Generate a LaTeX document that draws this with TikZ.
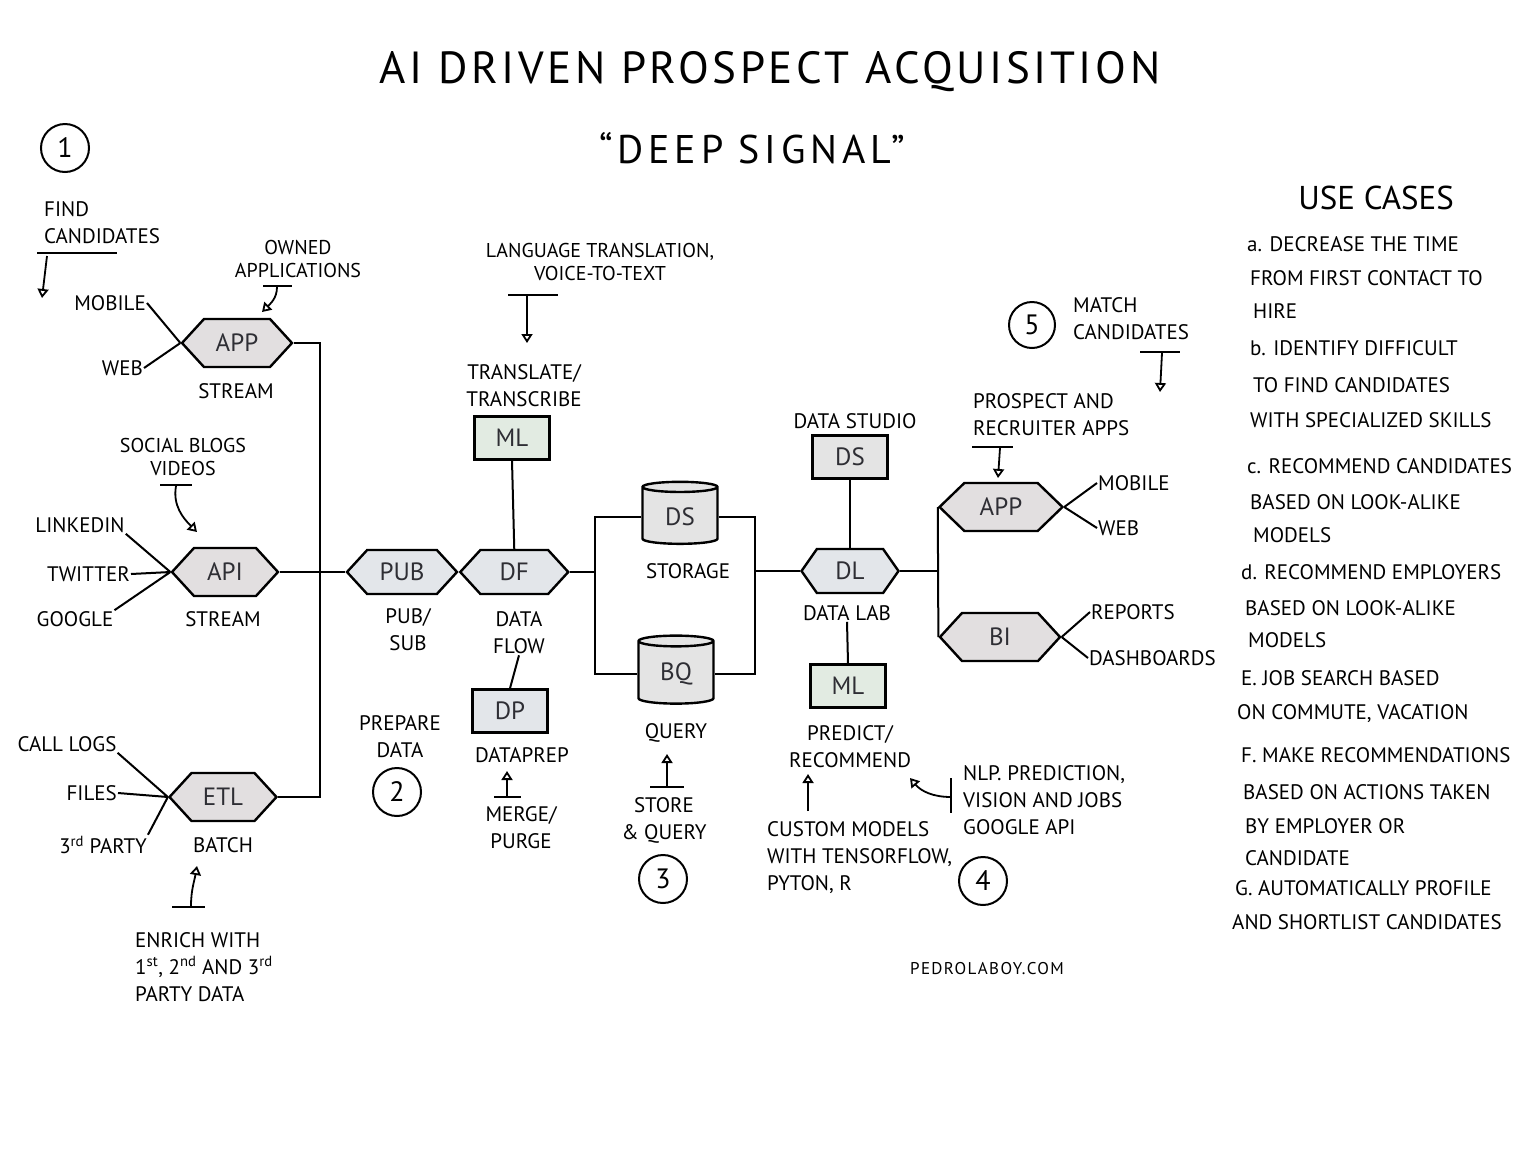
\documentclass[tikz,border=0pt]{standalone}
\usepackage{fontspec}
\setmainfont{PT Sans}
\usetikzlibrary{shapes.symbols,shapes.geometric,arrows.meta,positioning}
\definecolor{hexgray}{HTML}{E2DFE0}
\definecolor{flowblue}{HTML}{E3E6EA}
\definecolor{mlgreen}{HTML}{E2EBE2}
\definecolor{boxgray}{HTML}{E4E4E4}
\definecolor{inkgray}{HTML}{2E2E34}
\tikzset{
  hexa/.style={signal,signal to=east and west,signal pointer angle=95,draw=black,
    line width=2.4pt,fill=hexgray,minimum height=48pt,minimum width=110pt,inner sep=0pt,
    text=inkgray,font=\fontsize{25}{28}\selectfont},
  flowhexa/.style={hexa,fill=flowblue,minimum height=44pt},
  mlbox/.style={rectangle,draw=black,line width=2.4pt,fill=mlgreen,minimum width=75pt,
    minimum height=43pt,text=inkgray,font=\fontsize{25}{28}\selectfont},
  flowbox/.style={mlbox,fill=flowblue},
  graybox/.style={mlbox,fill=boxgray},
  store/.style={cylinder,shape border rotate=90,aspect=0.28,draw=black,line width=2.4pt,
    fill=boxgray,minimum width=75pt,minimum height=62pt,text=inkgray,
    font=\fontsize{25}{28}\selectfont},
  lbl/.style={font=\fontsize{21}{27}\selectfont,inner sep=1pt,align=center},
  small lbl/.style={lbl,font=\fontsize{20}{23}\selectfont},
  lbll/.style={lbl,align=left,anchor=west},
  stepno/.style={circle,draw=black,line width=2pt,minimum size=48pt,inner sep=0pt,
    font=\fontsize{28}{30}\selectfont},
  wire/.style={draw=black,line width=2pt},
  bar/.style={draw=black,line width=2pt},
  note arrow/.style={draw=black,line width=1.8pt,-{Triangle[open,length=9pt,width=11pt]}},
  usecase/.style={font=\fontsize{21}{24}\selectfont,anchor=west,inner sep=0pt}
}
\begin{document}
\begin{tikzpicture}[x=1pt,y=-1pt]
  \useasboundingbox (0,0) rectangle (1536,1152);
  % titles
  \node[font=\fontsize{45}{50}\selectfont\addfontfeature{LetterSpace=8}] (title) at (770,72) {AI DRIVEN PROSPECT ACQUISITION};
  \node[font=\fontsize{40}{44}\selectfont\addfontfeature{LetterSpace=12}] (subtitle) at (752,148) {“DEEP SIGNAL”};
  % step numbers
  \node[stepno] (n1) at (65,148) {1};
  \node[stepno] (n2) at (397,792) {2};
  \node[stepno] (n3) at (663,879) {3};
  \node[stepno] (n4) at (983,881) {4};
  \node[stepno,minimum size=46pt] (n5) at (1032,325) {5};

  % sources
  \node[hexa] (app) at (237,343) {APP};
  \node[hexa,minimum width=106pt] (api) at (225,572) {API};
  \node[hexa,minimum width=107pt] (etl) at (223,797) {ETL};
  \node[lbl,anchor=east] (mob) at (147,303) {MOBILE};
  \node[lbl,anchor=east] (web) at (144,368) {WEB};
  \node[lbl] (appst) at (236,391) {STREAM};
  \node[lbl] (lnk) at (80,525) {LINKEDIN};
  \node[lbl,anchor=east] (twt) at (131,574) {TWITTER};
  \node[lbl] (ggl) at (75,619) {GOOGLE};
  \node[lbl] (apist) at (223,619) {STREAM};
  \node[lbl] (clog) at (67,744) {CALL LOGS};
  \node[lbl,anchor=east] (fil) at (118,793) {FILES};
  \node[lbl] (thp) at (103,845) {3\textsuperscript{rd} PARTY};
  \node[lbl] (etlst) at (223,845) {BATCH};
  \node[lbll] (find) at (43,223) {FIND\\CANDIDATES};
  \node[small lbl] (own) at (298,259) {OWNED\\APPLICATIONS};
  \node[small lbl] (soc) at (183,457) {SOCIAL BLOGS\\VIDEOS};
  \node[lbll] (enr) at (134,967) {ENRICH WITH\\1\textsuperscript{st}, 2\textsuperscript{nd} AND 3\textsuperscript{rd}\\PARTY DATA};

  % prepare
  \node[flowhexa] (pub) at (402,572) {PUB};
  \node[flowhexa,minimum width=108pt,right=0pt of pub] (df) {DF};
  \node[mlbox] (ml) at (512,438) {ML};
  \node[flowbox] (dp) at (510,711) {DP};
  \node[lbl] (pubst) at (408,630) {PUB/\\SUB};
  \node[lbl] (dfst) at (519,633) {DATA\\FLOW};
  \node[lbl] (trl) at (524,386) {TRANSLATE/\\TRANSCRIBE};
  \node[small lbl] (lang) at (600,262) {LANGUAGE TRANSLATION,\\VOICE-TO-TEXT};
  \node[lbl] (prep) at (400,737) {PREPARE\\DATA};
  \node[lbl] (dpst) at (522,755) {DATAPREP};
  \node[lbl] (merge) at (521,828) {MERGE/\\PURGE};

  % store
  \node[store] (dsto) at (680,517) {DS};
  \node[store,minimum height=68pt] (bq) at (676,674) {BQ};
  \node[lbl] (stolab) at (688,571) {STORAGE};
  \node[lbl] (bqlab) at (676,733) {QUERY};
  \node[lbl] (stq) at (664,820) {STORE\\\& QUERY};

  % analyse
  \node[flowhexa,minimum width=97pt,signal pointer angle=110] (dl) at (850,571) {DL};
  \node[graybox] (dsb) at (850,457) {DS};
  \node[mlbox] (ml2) at (848,686) {ML};
  \node[lbl] (dllab) at (847,613) {DATA LAB};
  \node[lbl] (dslab) at (855,421) {DATA STUDIO};
  \node[lbl] (pred) at (850,747) {PREDICT/\\RECOMMEND};
  \node[lbll] (cust) at (766,858) {CUSTOM MODELS\\WITH TENSORFLOW,\\PYTON, R};
  \node[lbll] (nlp) at (962,800) {NLP. PREDICTION,\\VISION AND JOBS\\GOOGLE API};

  % match
  \node[hexa,minimum width=123pt,signal pointer angle=88] (app2) at (1001,507) {APP};
  \node[hexa,minimum width=120pt] (bi) at (1000,637) {BI};
  \node[lbll] (mob2) at (1097,483) {MOBILE};
  \node[lbll] (web2) at (1097,528) {WEB};
  \node[lbll] (rep) at (1090,612) {REPORTS};
  \node[lbll] (dash) at (1088,658) {DASHBOARDS};
  \node[lbll] (pra) at (972,415) {PROSPECT AND\\RECRUITER APPS};
  \node[lbll] (mtc) at (1072,319) {MATCH\\CANDIDATES};

  % connectors
  \draw[wire] (mob.east) -- (app.west) (web.east) -- (app.west);
  \draw[wire] (lnk.south east) -- (api.west) (twt.east) -- (api.west) (ggl.north east) -- (api.west);
  \draw[wire] (clog.south east) -- (etl.west) (fil.east) -- (etl.west) (thp.north east) -- (etl.west);
  \coordinate (busa) at (320,343);
  \coordinate (busb) at (320,797);
  \draw[wire] (app.east) -- (busa) -- (busb) -- (etl.east);
  \draw[wire] (api.east) -- (pub.west);
  \draw[wire] (ml.south) -- (df.north);
  \draw[wire] (dfst.south) -- (dp.north);
  \coordinate (busc) at (595,590);
  \coordinate (busd) at (755,590);
  \draw[wire] (df.east) -- (df.east -| busc);
  \draw[wire] (dsto.west) -| (busc) |- (bq.west);
  \draw[wire] (dsto.east) -| (busd) |- (bq.east);
  \draw[wire] (dl.west -| busd) -- (dl.west);
  \draw[wire] (dsb.south) -- (dl.north);
  \draw[wire] (dllab.south) -- (ml2.north);
  \draw[wire] (dl.east) -- (dl.east -| app2.west);
  \draw[wire] (app2.west) -- (bi.west);
  \draw[wire] (app2.east) -- (mob2.west) (app2.east) -- (web2.west);
  \draw[wire] (bi.east) -- (rep.west) (bi.east) -- (dash.west);

  % notes
  \coordinate (findu) at (37,253);  \coordinate (findv) at (117,253);
  \coordinate (finda) at (47,256);  \coordinate (findt) at (42,298);
  \draw[bar] (findu) -- (findv);
  \draw[note arrow] (finda) -- (findt);
  \coordinate (ownu) at (263,286);  \coordinate (ownv) at (292,286);
  \coordinate (owna) at (277,287);  \coordinate (ownt) at (262,312);
  \draw[bar] (ownu) -- (ownv);
  \draw[note arrow] (owna) to[out=-90,in=45] (ownt);
  \coordinate (socu) at (160,485);  \coordinate (socv) at (192,485);
  \coordinate (soca) at (176,486);  \coordinate (soct) at (197,532);
  \draw[bar] (socu) -- (socv);
  \draw[note arrow] (soca) to[out=-100,in=135] (soct);
  \coordinate (langu) at (508,295); \coordinate (langv) at (558,295);
  \coordinate (langa) at (527,296); \coordinate (langt) at (527,343);
  \draw[bar] (langu) -- (langv);
  \draw[note arrow] (langa) -- (langt);
  \coordinate (enru) at (172,907);  \coordinate (enrv) at (205,907);
  \coordinate (enra) at (191,906);  \coordinate (enrt) at (197,866);
  \draw[bar] (enru) -- (enrv);
  \draw[note arrow] (enra) to[out=90,in=-100] (enrt);
  \coordinate (mrgu) at (494,797);  \coordinate (mrgv) at (521,797);
  \coordinate (mrga) at (507,797);  \coordinate (mrgt) at (507,771);
  \draw[bar] (mrgu) -- (mrgv);
  \draw[note arrow] (mrga) -- (mrgt);
  \coordinate (stqu) at (650,787);  \coordinate (stqv) at (684,787);
  \coordinate (stqa) at (667,787);  \coordinate (stqt) at (667,754);
  \draw[bar] (stqu) -- (stqv);
  \draw[note arrow] (stqa) -- (stqt);
  \coordinate (custa) at (808,811); \coordinate (custt) at (808,774);
  \draw[note arrow] (custa) -- (custt);
  \coordinate (nlpu) at (951,778);  \coordinate (nlpv) at (951,813);
  \coordinate (nlpa) at (951,797);  \coordinate (nlpt) at (910,778);
  \draw[bar] (nlpu) -- (nlpv);
  \draw[note arrow] (nlpa) to[out=180,in=-50] (nlpt);
  \coordinate (prau) at (972,447);  \coordinate (prav) at (1013,447);
  \coordinate (praa) at (1000,448); \coordinate (prat) at (998,478);
  \draw[bar] (prau) -- (prav);
  \draw[note arrow] (praa) -- (prat);
  \coordinate (mtcu) at (1140,352); \coordinate (mtcv) at (1180,352);
  \coordinate (mtca) at (1162,353); \coordinate (mtct) at (1160,392);
  \draw[bar] (mtcu) -- (mtcv);
  \draw[note arrow] (mtca) -- (mtct);

  % use cases
  \node[font=\fontsize{33}{36}\selectfont] (uchead) at (1376,198) {USE CASES};
  \foreach \ux/\uy/\utext [count=\i] in {
      1247/244/{a. DECREASE THE TIME},
      1250/278/{FROM FIRST CONTACT TO},
      1253/311/{HIRE},
      1250/348/{b. IDENTIFY DIFFICULT},
      1253/385/{TO FIND CANDIDATES},
      1250/420/{WITH SPECIALIZED SKILLS},
      1247/466/{c. RECOMMEND CANDIDATES},
      1250/502/{BASED ON LOOK-ALIKE},
      1253/535/{MODELS},
      1241/572/{d. RECOMMEND EMPLOYERS},
      1245/608/{BASED ON LOOK-ALIKE},
      1248/640/{MODELS},
      1241/678/{E. JOB SEARCH BASED},
      1237/714/{ON COMMUTE, VACATION},
      1241/755/{F. MAKE RECOMMENDATIONS},
      1243/792/{BASED ON ACTIONS TAKEN},
      1245/826/{BY EMPLOYER OR},
      1245/858/{CANDIDATE},
      1235/888/{G. AUTOMATICALLY PROFILE},
      1232/922/{AND SHORTLIST CANDIDATES}}
    \node[usecase] (uc\i) at (\ux,\uy) {\utext};

  \node[font=\fontsize{17}{20}\selectfont\addfontfeature{LetterSpace=8}] (site) at (987,969) {PEDROLABOY.COM};
\end{tikzpicture}
\end{document}
